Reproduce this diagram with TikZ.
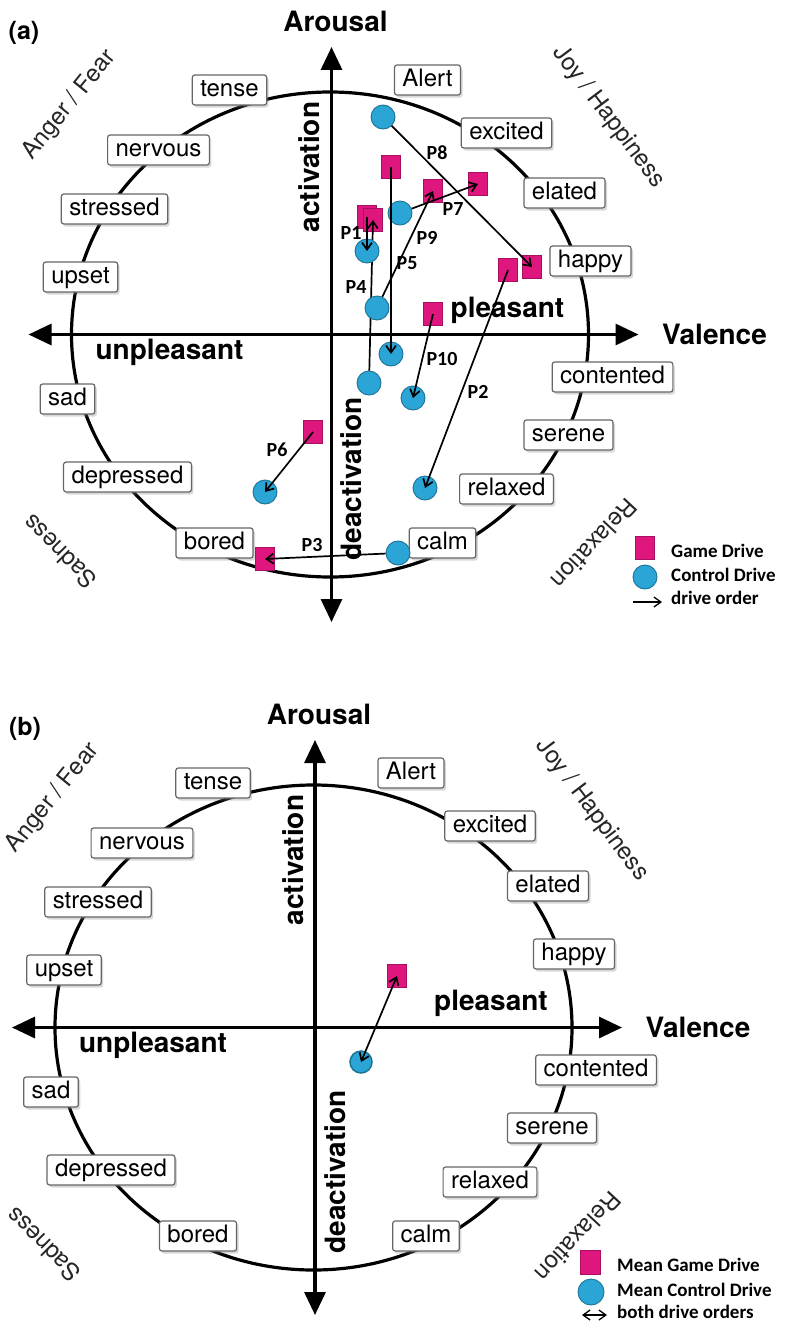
\documentclass[tikz,border=0pt]{standalone}
\usepackage{fontspec}
\setmainfont{TeX Gyre Heros}
\newfontfamily\calfont{Carlito}
\usetikzlibrary{arrows.meta,shadows}
\definecolor{gamepink}{RGB}{222,22,125}
\definecolor{ctrlblue}{RGB}{42,165,214}
\tikzset{
  mood/.style   = {draw=black!60, line width=1.2pt, fill=white, rounded corners=2.5pt,
                   inner xsep=8pt, inner ysep=4pt, text height=17pt, text depth=5pt,
                   font=\fontsize{24}{28}\selectfont,
                   drop shadow={shadow xshift=2pt, shadow yshift=-2.5pt, opacity=0.3}},
  axis/.style   = {line width=3.2pt, {Triangle[length=23pt,width=21pt]}-{Triangle[length=23pt,width=21pt]}},
  big/.style    = {font=\fontsize{28}{32}\selectfont\bfseries},
  corner/.style = {font=\fontsize{24}{28}\selectfont, text=black!85, inner sep=0pt},
  game/.style   = {rectangle, fill=gamepink, draw=gamepink!75!black, line width=0.8pt,
                   minimum width=19pt, minimum height=23pt, inner sep=0pt},
  ctrl/.style   = {circle, fill=ctrlblue, draw=ctrlblue!70!black, line width=0.9pt,
                   minimum size=24pt, inner sep=0pt},
  order/.style  = {-{Straight Barb[length=7pt,width=10pt]}, line width=1.7pt},
  both/.style   = {{Straight Barb[length=7pt,width=10pt]}-{Straight Barb[length=7pt,width=10pt]}, line width=1.7pt},
  plab/.style   = {font=\calfont\fontsize{20}{22}\selectfont\bfseries, inner sep=1pt},
  key/.style    = {anchor=west, inner sep=1pt, font=\calfont\fontsize{19}{22}\selectfont\bfseries},
}

\begin{document}
\begin{tikzpicture}[x=1pt,y=-1pt]
  \useasboundingbox[fill=white] (0,0) rectangle (785,1322);

  % the circumplex, drawn for both panels
  \foreach \pan/\dx/\dy in {a/16.5/-693, b/0/0} {
    \begin{scope}[shift={(\dx,\dy)}, name prefix=\pan-]
      \draw[line width=3.2pt] (313.5,1027.5) ellipse [x radius=258.5, y radius=242.5];
      \coordinate (west) at (12,1027.5);  \coordinate (east) at (622,1027.5);
      \coordinate (south) at (315,1315);  \coordinate (north) at (315,740);
      \draw[axis] (west) -- (east);
      \draw[axis] (south) -- (north);
      \foreach \w/\x/\y in {Alert/411/773, excited/490/826, elated/548/886, happy/574/954,
          contented/596/1070, serene/552/1128, relaxed/490/1182, calm/426/1236,
          bored/198/1236, depressed/111/1170, sad/51/1092, upset/64/970,
          stressed/98/902, nervous/142/843, tense/213/783}
        \node[mood] (\w) at (\x,\y) {\w};
      \node[big] (arousal) at (319,714) {Arousal};
      \node[big] (valence) at (698,1027) {Valence};
      \node[big] (pleasant) at (491,1003) {pleasant};
      \node[big] (unpleasant) at (153,1045) {unpleasant};
      \node[big, rotate=90] (activation) at (293,860) {activation};
      \node[big, rotate=90] (deactivation) at (335,1172) {deactivation};
      \node[corner, rotate=51] (angerfear) at (53,798) {Anger / Fear};
      \node[corner, rotate=-53] (joyhap) at (592,810) {Joy / Happiness};
      \node[corner, rotate=-133] (relaxation) at (578,1237) {Relaxation};
      \node[corner, rotate=135] (sadness) at (43,1245) {Sadness};
    \end{scope}
  }
  \node[font=\fontsize{25}{28}\selectfont\bfseries] (tag-a) at (24,33) {(a)};
  \node[font=\fontsize{25}{28}\selectfont\bfseries] (tag-b) at (25,729) {(b)};

  % panel (a): single drives
  \node[game] (g5) at (391,167) {};
  \node[game] (g9) at (433,191) {};
  \node[game] (g7) at (478,184) {};
  \node[game] (g1) at (367,217) {};
  \node[game] (g4) at (373,220) {};
  \node[game] (g2) at (508,270) {};
  \node[game] (g8) at (532,267) {};
  \node[game] (g10) at (433,314) {};
  \node[game] (g6) at (313,432) {};
  \node[game] (g3) at (265,559) {};
  \node[ctrl] (c4) at (369,383) {};
  \draw[order] (c4) -- (g4.center);
  \node[ctrl] (c8) at (383,117) {};
  \node[ctrl] (c7) at (400,213) {};
  \node[ctrl] (c1) at (367,251) {};
  \node[ctrl] (c9) at (377,308) {};
  \node[ctrl] (c5) at (391,354) {};
  \node[ctrl] (c10) at (413,398) {};
  \node[ctrl] (c2) at (425,488) {};
  \node[ctrl] (c6) at (265,492) {};
  \node[ctrl] (c3) at (398,553) {};
  \draw[order] (g1.center) -- (c1.center);
  \draw[order] (g5.center) -- (c5.center);
  \draw[order] (c9) -- (g9.center);
  \draw[order] (c7) -- (g7.center);
  \draw[order] (c8) -- (g8.center);
  \draw[order] (g2.center) -- (c2.center);
  \draw[order] (g10.center) -- (c10.center);
  \draw[order] (g6.center) -- (c6.center);
  \draw[order] (c3) -- (g3.center);
  \node[plab] (p1) at (351,233) {P1};
  \node[plab] (p2) at (478,392) {P2};
  \node[plab] (p3) at (312,545) {P3};
  \node[plab] (p4) at (356,287) {P4};
  \node[plab] (p5) at (407,263) {P5};
  \node[plab] (p6) at (277,450) {P6};
  \node[plab] (p7) at (453,209) {P7};
  \node[plab] (p8) at (437,153) {P8};
  \node[plab] (p9) at (427,238) {P9};
  \node[plab] (p10) at (442,359) {P10};

  % panel (a) key
  \node[game] (leg-g) at (645,548) {};
  \node[key] (legtext-g) at (670,551) {Game Drive};
  \node[ctrl] (leg-c) at (645,577) {};
  \node[key] (legtext-c) at (670,575) {Control Drive};
  \coordinate (leg-l) at (633,602);  \coordinate (leg-r) at (662,602);
  \draw[order, line width=1.3pt] (leg-l) -- (leg-r);
  \node[key] (legtext-o) at (670,598) {drive order};

  % panel (b): means
  \node[game] (gm) at (397,976) {};
  \node[ctrl, minimum size=22pt, line width=1.5pt] (cm) at (361,1062) {};
  \draw[both] (cm.center) -- (gm.center);

  % panel (b) key
  \node[game, minimum width=20pt, minimum height=24pt] (key-g) at (590,1262) {};
  \node[key] (keytext-g) at (616,1265) {Mean Game Drive};
  \node[ctrl, minimum size=26pt] (key-c) at (591,1292) {};
  \node[key] (keytext-c) at (616,1290) {Mean Control Drive};
  \coordinate (key-l) at (582,1315);  \coordinate (key-r) at (607,1315);
  \draw[both, line width=1.3pt] (key-l) -- (key-r);
  \node[key] (keytext-o) at (616,1312) {both drive orders};
\end{tikzpicture}
\end{document}
